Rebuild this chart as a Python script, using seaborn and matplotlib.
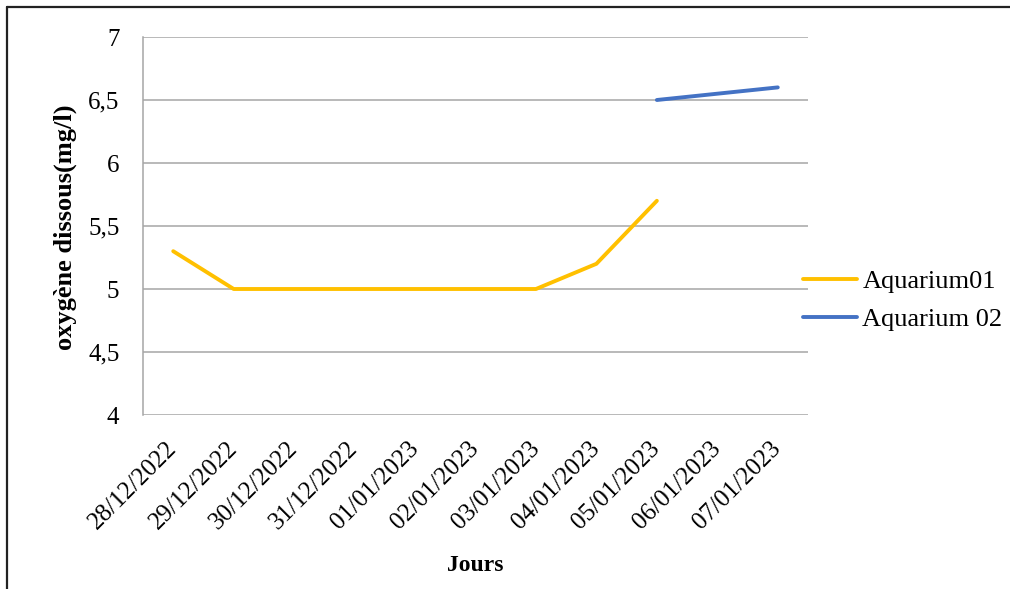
import numpy as np
import pandas as pd
import matplotlib
matplotlib.use("Agg")
import matplotlib.pyplot as plt
from matplotlib.lines import Line2D
import seaborn as sns

# Data
dates = ['28/12/2022', '29/12/2022', '30/12/2022', '31/12/2022', '01/01/2023',
         '02/01/2023', '03/01/2023', '04/01/2023', '05/01/2023', '06/01/2023',
         '07/01/2023']
aquarium01 = [5.3, 5.0, 5.0, 5.0, 5.0, 5.0, 5.0, 5.2, 5.7, np.nan, np.nan]
aquarium02 = [np.nan, np.nan, np.nan, np.nan, np.nan, np.nan, np.nan, np.nan, 6.5, 6.55, 6.6]
series_names = ['Aquarium01', 'Aquarium 02']
y_ticks = [4, 4.5, 5, 5.5, 6, 6.5, 7]

df = pd.DataFrame({'pos': list(range(len(dates))) * 2,
                   'value': aquarium01 + aquarium02,
                   'serie': [series_names[0]] * len(dates) + [series_names[1]] * len(dates)})
df = df.dropna()

sns.set_style('white')
plt.rcParams['font.family'] = ['Liberation Serif', 'DejaVu Serif']
plt.rcParams['text.color'] = 'black'
plt.rcParams['xtick.color'] = 'black'
plt.rcParams['ytick.color'] = 'black'
plt.rcParams['axes.labelcolor'] = 'black'

fig = plt.figure(figsize=(10.1, 5.89), dpi=100)
ax = fig.add_axes([143 / 1010, 1 - 415 / 589, (808 - 143) / 1010, (415 - 37) / 589])

sns.lineplot(data=df, x='pos', y='value', hue='serie', hue_order=series_names,
             palette=['#FFC000', '#4472C4'], linewidth=2.8, ax=ax,
             solid_capstyle='round')

ax.set_xlim(-0.5, len(dates) - 0.5)
ax.set_ylim(4, 7)
ax.set_yticks(y_ticks)
ax.set_yticklabels([f'{v:g}'.replace('.', ',') for v in y_ticks], fontsize=18)
ax.set_xticks(range(len(dates)))
ax.set_xticklabels(dates, rotation=45, ha='right', va='center',
                   rotation_mode='anchor', fontsize=18)
ax.tick_params(axis='both', length=0)
ax.tick_params(axis='y', pad=17)
ax.tick_params(axis='x', pad=22)

ax.grid(axis='y', color='#A6A6A6', linewidth=1.1)
ax.grid(axis='x', visible=False)
for side in ['top', 'right', 'bottom']:
    ax.spines[side].set_visible(False)
ax.spines['left'].set_color('#A6A6A6')
ax.spines['left'].set_linewidth(1.1)

ax.set_xlabel('Jours', fontsize=17, fontweight='bold')
ax.set_ylabel('oxygène dissous(mg/l)', fontsize=19, fontweight='bold')
ax.xaxis.set_label_coords(0.499, -0.37)
ax.yaxis.set_label_coords(-0.099, 0.497)

handles, labels = ax.get_legend_handles_labels()
ax.legend(handles, labels, loc='center left', bbox_to_anchor=(0.9925, 0.303),
          frameon=False, fontsize=19, handlelength=2.05, handletextpad=0.2,
          labelspacing=0.55, borderaxespad=0, borderpad=0)

# outer frame (top and left edges visible in the reference)
fig.add_artist(Line2D([7 / 1010, 1.0], [1 - 7 / 589, 1 - 7 / 589], color='#222222', linewidth=1.6))
fig.add_artist(Line2D([7 / 1010, 7 / 1010], [0, 1 - 7 / 589], color='#222222', linewidth=1.6))

fig.savefig('out.png', dpi=100)
